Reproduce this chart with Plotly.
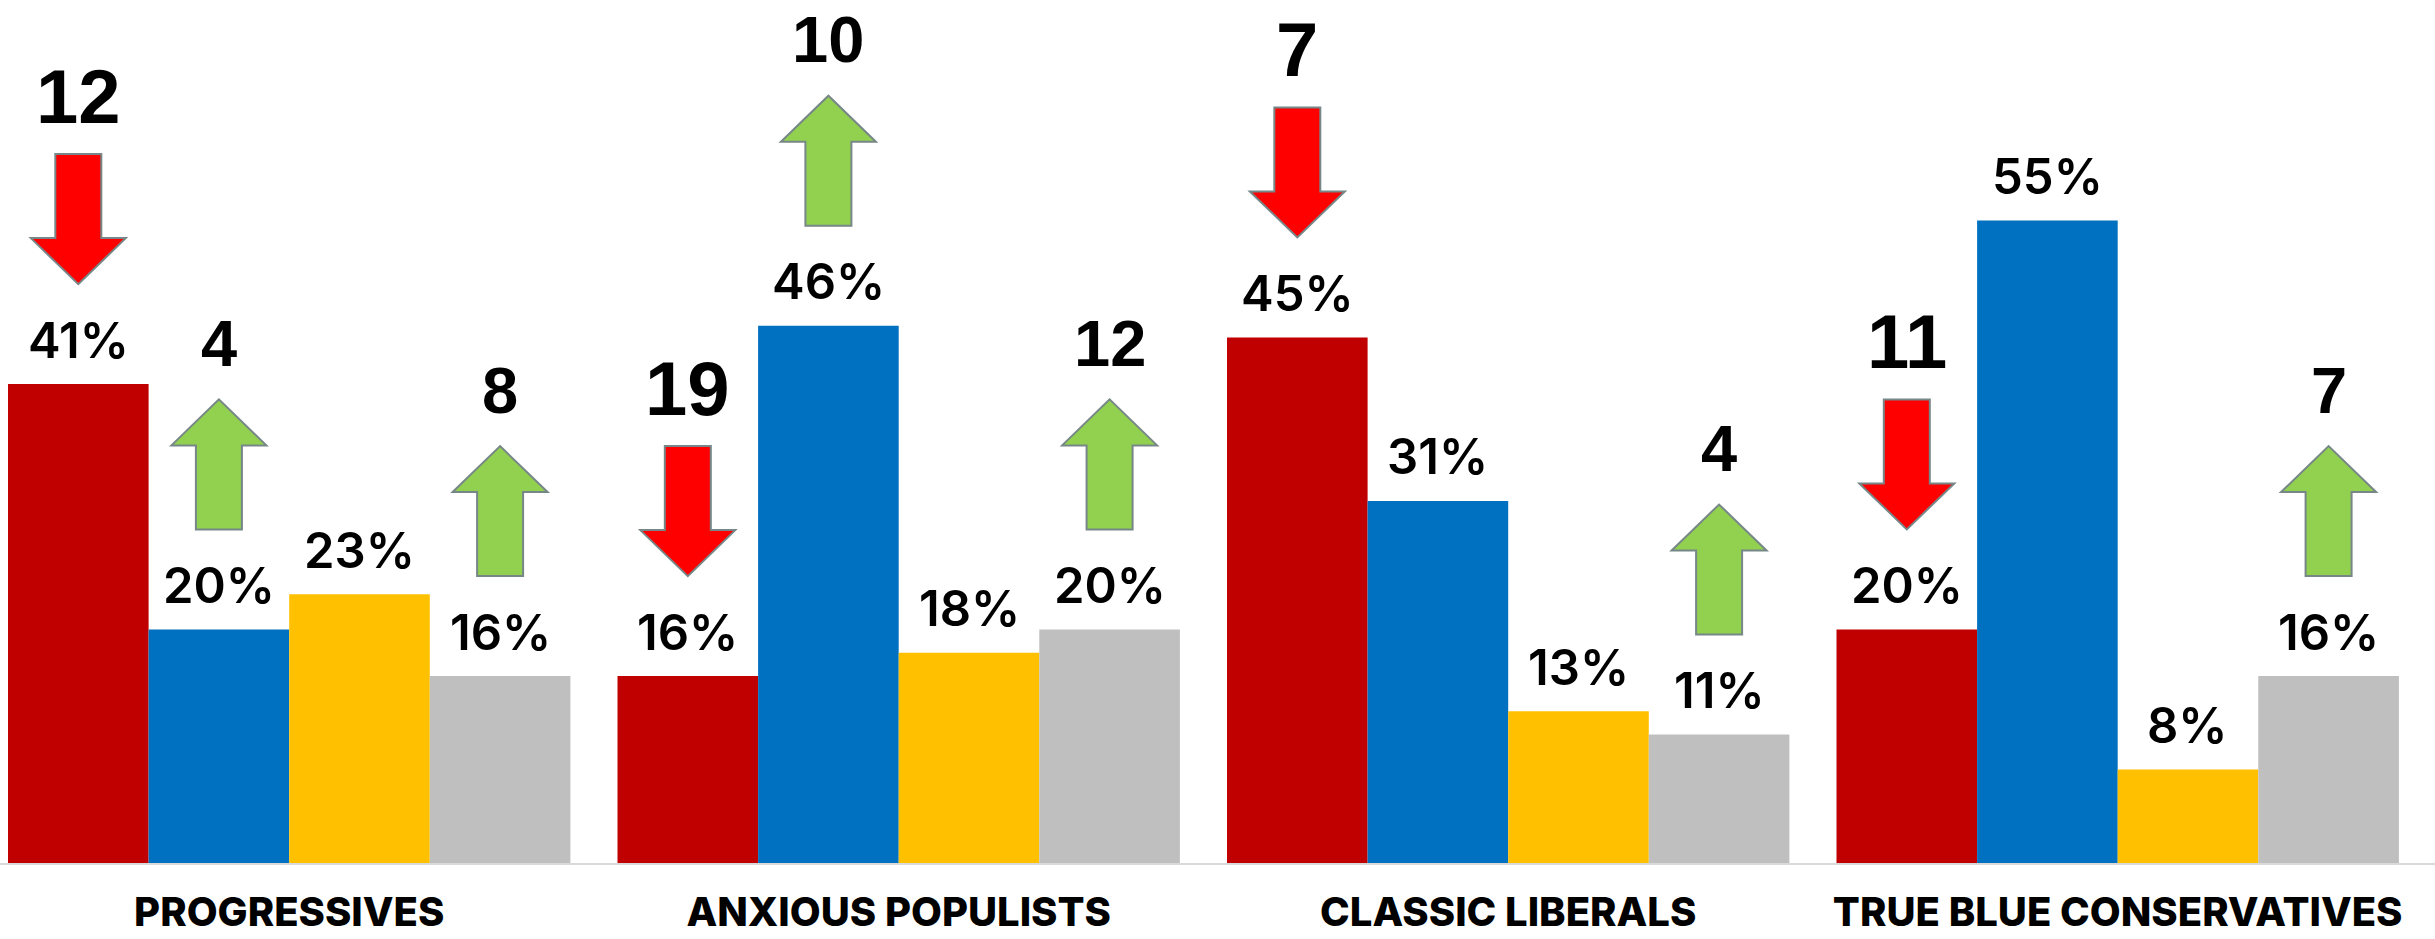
import plotly.graph_objects as go

# Segment names along the x axis
segments = ["PROGRESSIVES", "ANXIOUS POPULISTS", "CLASSIC LIBERALS", "TRUE BLUE CONSERVATIVES"]

# Share (%) of each party within each segment
red_share = [41, 16, 45, 20]
blue_share = [20, 46, 31, 55]
yellow_share = [23, 18, 13, 8]
gray_share = [16, 20, 11, 16]

# Change in points since the previous wave (None = no arrow)
red_change = [-12, -19, -7, -11]
blue_change = [4, 10, None, None]
yellow_change = [None, None, None, None]
gray_change = [8, 12, 4, 7]

series = [
    ("Red", red_share, red_change, "#C00000"),
    ("Blue", blue_share, blue_change, "#0070C0"),
    ("Yellow", yellow_share, yellow_change, "#FFC000"),
    ("Gray", gray_share, gray_change, "#BFBFBF"),
]

W, H = 2435, 939
BARGAP = 0.0773
PCT_FONT = "Inter"
CAT_FONT = "Inter"
NUM_FONT = "Liberation Sans"

# Arrow geometry in pixels
ARROW_GAP = 100      # distance between bar top and arrow
ARROW_LEN = 130
HEAD_LEN = 46
SHAFT_HALF = 23
HEAD_HALF = 47.5

def down_arrow(g):
    top, base, tip = g + ARROW_LEN, g + HEAD_LEN, g
    return (f"M {-SHAFT_HALF},{top} L {SHAFT_HALF},{top} L {SHAFT_HALF},{base} "
            f"L {HEAD_HALF},{base} L 0,{tip} L {-HEAD_HALF},{base} L {-SHAFT_HALF},{base} Z")

def up_arrow(g):
    bot, base, tip = g, g + ARROW_LEN - HEAD_LEN, g + ARROW_LEN
    return (f"M {-SHAFT_HALF},{bot} L {SHAFT_HALF},{bot} L {SHAFT_HALF},{base} "
            f"L {HEAD_HALF},{base} L 0,{tip} L {-HEAD_HALF},{base} L {-SHAFT_HALF},{base} Z")

fig = go.Figure()
xs = list(range(len(segments)))
n = len(series)
bar_w = (1 - BARGAP) / n

shapes = []
annotations = []
for j, (name, vals, changes, color) in enumerate(series):
    fig.add_trace(go.Bar(
        x=xs, y=vals, name=name, marker=dict(color=color, line=dict(width=0)),
        hoverinfo="skip",
    ))
    off = (j - (n - 1) / 2) * bar_w
    for i, (v, c) in enumerate(zip(vals, changes)):
        xc = i + off
        annotations.append(dict(
            x=xc, y=v, xref="x", yref="y", text=f"{v}%", showarrow=False,
            yshift=44, yanchor="middle", xanchor="center",
            font=dict(family=PCT_FONT, size=49, color="#000000", weight=600),
        ))
        if c is None:
            continue
        if c < 0:
            path = down_arrow(ARROW_GAP)
            fill = "#FF0000"
            size = 76
            shift = ARROW_GAP + ARROW_LEN + 58
        else:
            path = up_arrow(ARROW_GAP)
            fill = "#92D050"
            size = 65
            shift = ARROW_GAP + ARROW_LEN + 56
        shapes.append(dict(
            type="path", xref="x", yref="y", xsizemode="pixel", ysizemode="pixel",
            xanchor=xc, yanchor=v, path=path, fillcolor=fill,
            line=dict(color="#778787", width=2), layer="above",
        ))
        annotations.append(dict(
            x=xc, y=v, xref="x", yref="y", text=str(abs(c)), showarrow=False,
            yshift=shift, yanchor="middle", xanchor="center",
            font=dict(family=NUM_FONT, size=size, color="#000000", weight="bold"),
        ))

PLOT_H = 863
PX_PER_PCT = 11.68

fig.update_layout(
    width=W, height=H,
    margin=dict(l=0, r=0, t=0, b=H - PLOT_H, pad=0, autoexpand=False),
    barmode="group", bargap=BARGAP, bargroupgap=0,
    plot_bgcolor="#FFFFFF", paper_bgcolor="#FFFFFF",
    showlegend=False,
    shapes=shapes, annotations=annotations,
    xaxis=dict(
        range=[-0.4745, 3.5206], tickvals=xs, ticktext=segments,
        showgrid=False, zeroline=False, ticks="", automargin=False,
        showline=True, linecolor="#D9D9D9", linewidth=2,
        tickfont=dict(family=CAT_FONT, size=40, color="#000000", weight=800),
        ticklabelstandoff=13,
    ),
    yaxis=dict(
        range=[0, PLOT_H / PX_PER_PCT], visible=False, showgrid=False, zeroline=False,
        automargin=False,
    ),
)

fig.write_html("out.html")
